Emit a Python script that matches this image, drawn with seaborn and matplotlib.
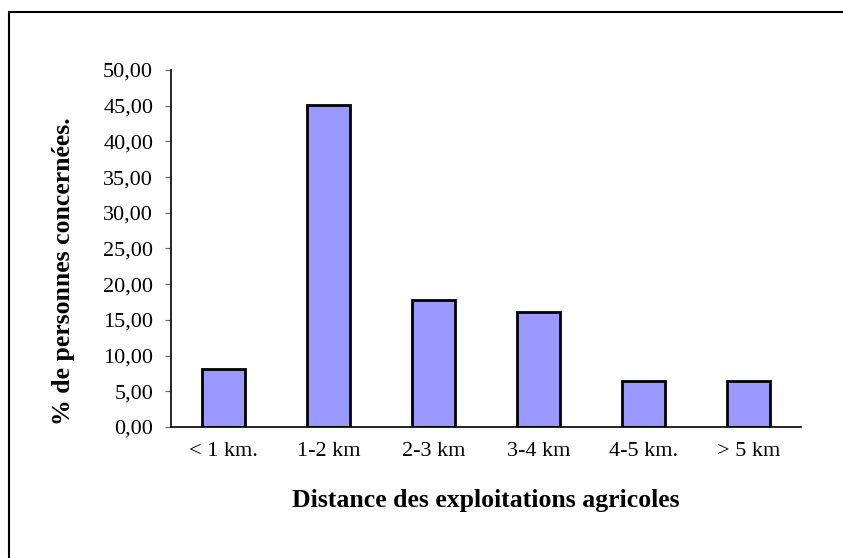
import matplotlib
matplotlib.use("Agg")
import matplotlib.pyplot as plt
import seaborn as sns
import pandas as pd
import numpy as np
from matplotlib.patches import Rectangle
from matplotlib.ticker import FuncFormatter

# Data
distances = ["< 1 km.", "1-2 km", "2-3 km", "3-4 km", "4-5 km.", "> 5 km"]
percents = [8.06, 45.16, 17.74, 16.13, 6.45, 6.45]

df = pd.DataFrame({"distance": distances, "percent": percents})

sns.set_style("white")
plt.rcParams["font.family"] = ["Liberation Serif", "DejaVu Serif"]
plt.rcParams["text.color"] = "black"
plt.rcParams["axes.labelcolor"] = "black"
plt.rcParams["xtick.labelcolor"] = "black"
plt.rcParams["ytick.labelcolor"] = "black"

fig = plt.figure(figsize=(8.43, 5.58), dpi=100)
ax = fig.add_axes([0.2028, 0.2348, 0.7473, 0.6398])

sns.barplot(data=df, x="distance", y="percent", color="#9999FF",
            saturation=1, width=0.41, edgecolor="black", linewidth=2, ax=ax)

ax.set_xlim(-0.5, len(distances) - 0.5)
ax.set_ylim(0, 50)
ax.set_yticks(np.arange(0, 51, 5))
ax.yaxis.set_major_formatter(FuncFormatter(lambda v, p: f"{v:.2f}".replace(".", ",")))

# category labels at centres, tick marks at boundaries
ax.set_xticks(np.arange(len(distances)))
ax.set_xticklabels(distances)
ax.tick_params(axis="x", length=0, labelsize=16, pad=10.5, labelcolor="black")
ax.set_xticks(np.arange(-0.5, len(distances)), minor=True)
ax.tick_params(axis="x", which="minor", length=3.8, width=0.8, color="#444444", direction="out")
ax.tick_params(axis="y", length=4.3, width=0.8, color="#666666", labelsize=16, pad=8.5,
               left=True, labelcolor="black")

for s in ["top", "right"]:
    ax.spines[s].set_visible(False)
for s in ["left", "bottom"]:
    ax.spines[s].set_color("black")
    ax.spines[s].set_linewidth(1.2)

ax.set_xlabel("Distance des exploitations agricoles", fontsize=18.5, fontweight="bold", color="black")
ax.xaxis.set_label_coords(0.5, -0.207)
ax.xaxis.label.set_va("center")
ax.set_ylabel("% de personnes concernées.", fontsize=18.5, fontweight="bold", color="black")
ax.yaxis.set_label_coords(-0.171, 0.437)
ax.yaxis.label.set_va("center")

# chart-area border (open to the right and bottom, as in the reference)
fig.patches.append(Rectangle((9 / 843, -0.1), 1.2, (558 - 12) / 558 + 0.1,
                             transform=fig.transFigure, fill=False,
                             edgecolor="black", linewidth=1.5))

fig.savefig("out.png", dpi=100)
